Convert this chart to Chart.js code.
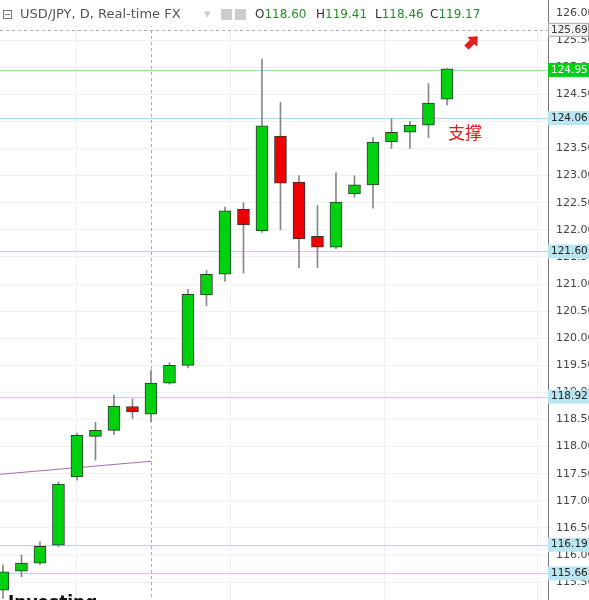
<!DOCTYPE html>
<html lang="en">
  <head>
    <meta charset="UTF-8" />
    <title>USD/JPY</title>
    <style>
      * { box-sizing: border-box; margin: 0; padding: 0; }
      body { background: #fff; }
      #wrap { width: 589px; height: 600px; }
    </style>
    <script src="https://cdn.jsdelivr.net/npm/chart.js"></script>
  </head>
  <body>
    <div id="wrap"><canvas id="fx"></canvas></div>
    <script>
      const opens  = [115.35, 115.70, 115.85, 116.18, 117.44, 118.19, 118.30, 118.74, 118.60, 119.17, 119.50, 120.80, 121.18, 122.38, 121.98, 123.73, 122.88, 121.88, 121.68, 122.66, 122.83, 123.62, 123.80, 123.93, 124.41];
      const highs  = [115.82, 116.00, 116.25, 117.35, 118.25, 118.45, 118.95, 118.88, 119.41, 119.55, 120.90, 121.25, 122.42, 122.50, 125.15, 124.35, 123.00, 122.45, 123.05, 123.00, 123.70, 124.05, 124.00, 124.70, 124.97];
      const lows   = [115.20, 115.60, 115.82, 116.15, 117.38, 117.75, 118.22, 118.52, 118.46, 119.15, 119.45, 120.60, 121.05, 121.20, 121.95, 122.00, 121.30, 121.30, 121.65, 122.60, 122.40, 123.50, 123.50, 123.70, 124.30];
      const closes = [115.69, 115.85, 116.16, 117.31, 118.21, 118.30, 118.75, 118.64, 119.17, 119.50, 120.81, 121.18, 122.35, 122.09, 123.92, 122.86, 121.83, 121.68, 122.51, 122.83, 123.62, 123.80, 123.93, 124.34, 124.97];
      const levelLines = [124.06, 121.60, 118.92, 116.19, 115.66];
      const resistance = 124.95;
      const lastPrice = 125.69;
      const trendLine = [117.49, 117.73];

      const up = "#00d10e", down = "#ee0000";
      const colors = opens.map((o, i) => (closes[i] >= o ? up : down));
      const bodies = opens.map((o, i) => ({ x: i, y: [Math.min(o, closes[i]), Math.max(o, closes[i])] }));
      const wicks = lows.map((l, i) => ({ x: i, y: [l, highs[i]] }));

      const overlay = {
        id: "overlay",
        beforeDatasetsDraw(chart) {
          const { ctx, chartArea: a, scales } = chart;
          const y = scales.y, x = scales.x;
          ctx.save();
          ctx.lineWidth = 1;
          ctx.strokeStyle = "#a8dbe6";
          levelLines.forEach((v) => {
            const py = Math.round(y.getPixelForValue(v)) + 0.5;
            ctx.beginPath(); ctx.moveTo(a.left, py); ctx.lineTo(a.right, py); ctx.stroke();
          });
          ctx.strokeStyle = "#9be39b";
          let py = Math.round(y.getPixelForValue(resistance)) + 0.5;
          ctx.beginPath(); ctx.moveTo(a.left, py); ctx.lineTo(a.right, py); ctx.stroke();
          ctx.setLineDash([3, 3]);
          ctx.strokeStyle = "#aaa";
          py = Math.round(y.getPixelForValue(lastPrice)) + 0.5;
          ctx.beginPath(); ctx.moveTo(a.left, py); ctx.lineTo(a.right + 41, py); ctx.stroke();
          const cx = Math.round(x.getPixelForValue(8)) + 0.5;
          ctx.beginPath(); ctx.moveTo(cx, a.top); ctx.lineTo(cx, a.bottom); ctx.stroke();
          ctx.setLineDash([]);
          ctx.strokeStyle = "#a070b0";
          ctx.beginPath();
          ctx.moveTo(a.left, y.getPixelForValue(trendLine[0]));
          ctx.lineTo(cx, y.getPixelForValue(trendLine[1]));
          ctx.stroke();
          ctx.restore();
        },
        afterDraw(chart) {
          const { ctx, chartArea: a, scales } = chart;
          const y = scales.y;
          ctx.save();
          ctx.textBaseline = "middle";
          ctx.font = "11px 'DejaVu Sans'";
          ctx.fillStyle = "#444";
          y.ticks.forEach((t) => ctx.fillText(t.value.toFixed(2), a.right + 8, y.getPixelForValue(t.value)));
          ctx.font = "13px 'DejaVu Sans'";
          ctx.fillStyle = "#fff";
          ctx.fillRect(0, 0, 548, 26);
          ctx.fillStyle = "#555";
          ctx.strokeStyle = "#777";
          ctx.strokeRect(3.5, 10.5, 8, 8);
          ctx.beginPath(); ctx.moveTo(5, 14.5); ctx.lineTo(10, 14.5); ctx.stroke();
          ctx.fillText("USD/JPY, D, Real-time FX", 20, 15);
          ctx.fillStyle = "#ccc";
          ctx.fillText("▾", 204, 15);
          ctx.fillRect(221, 9, 11, 11);
          ctx.fillRect(235, 9, 11, 11);
          ctx.font = "12px 'DejaVu Sans'";
          const parts = [["O", 255], ["H", 316], ["L", 375], ["C", 430]];
          const vals = ["118.60", "119.41", "118.46", "119.17"];
          parts.forEach(([k, px], i) => {
            ctx.fillStyle = "#333"; ctx.fillText(k, px, 15);
            ctx.fillStyle = "#2a8a2a"; ctx.fillText(vals[i], px + ctx.measureText(k).width, 15);
          });
          ctx.font = "10.5px 'DejaVu Sans'";
          const tag = (v, bg, fg, border) => {
            const py = y.getPixelForValue(v);
            ctx.fillStyle = bg; ctx.fillRect(a.right, py - 7, 41, 14);
            if (border) { ctx.strokeStyle = border; ctx.strokeRect(a.right + 0.5, py - 6.5, 40, 13); }
            ctx.fillStyle = fg; ctx.fillText(v.toFixed(2), a.right + 3, py);
          };
          levelLines.forEach((v) => tag(v, "#b9e6f0", "#222"));
          tag(resistance, "#00d10e", "#fff");
          tag(lastPrice, "#f4f4f4", "#333", "#aaa");
          ctx.fillStyle = "#e02020";
          ctx.font = "17px 'Noto Sans CJK SC'";
          ctx.fillText("支撑", 448, 133);
          ctx.translate(470, 44);
          ctx.rotate(-Math.PI / 4);
          ctx.beginPath();
          ctx.moveTo(-5, -3); ctx.lineTo(3, -3); ctx.lineTo(3, -7); ctx.lineTo(11, 0);
          ctx.lineTo(3, 7); ctx.lineTo(3, 3); ctx.lineTo(-5, 3); ctx.closePath();
          ctx.fill();
          ctx.restore();
          ctx.save();
          ctx.font = "bold 17px 'DejaVu Sans'";
          ctx.fillStyle = "#111";
          ctx.fillText("Investing", 8, 608);
          ctx.restore();
        },
      };

      new Chart(document.getElementById("fx"), {
        type: "bar",
        data: {
          datasets: [
            { data: wicks, backgroundColor: "#888", barThickness: 1, grouped: false, order: 2 },
            { data: bodies, backgroundColor: colors, borderColor: "#333", borderWidth: 1, borderSkipped: false, barThickness: 12, grouped: false, order: 1 },
          ],
        },
        options: {
          responsive: true,
          maintainAspectRatio: false,
          animation: false,
          layout: { padding: 0 },
          plugins: { legend: { display: false }, tooltip: { enabled: false } },
          scales: {
            x: {
              type: "linear", min: -0.16, max: 29.46, offset: false, display: true,
              ticks: { display: false },
              border: { display: false },
              grid: { color: "#f0f0f0", drawTicks: false, offset: false },
              afterBuildTicks: (s) => { s.ticks = [4, 12.3, 20.6, 28.9].map((v) => ({ value: v })); },
              afterFit: (s) => { s.height = 0; },
            },
            y: {
              position: "right", min: 115.17, max: 126.24,
              afterBuildTicks: (s) => {
                const t = [];
                for (let v = 115.5; v <= 126.001; v += 0.5) t.push({ value: v });
                s.ticks = t;
              },
              afterFit: (s) => { s.width = 41; },
              ticks: { display: false },
              grid: { color: "#f0f0f0", tickLength: 4 },
              border: { color: "#777" },
            },
          },
        },
        plugins: [overlay],
      });
    </script>
  </body>
</html>
